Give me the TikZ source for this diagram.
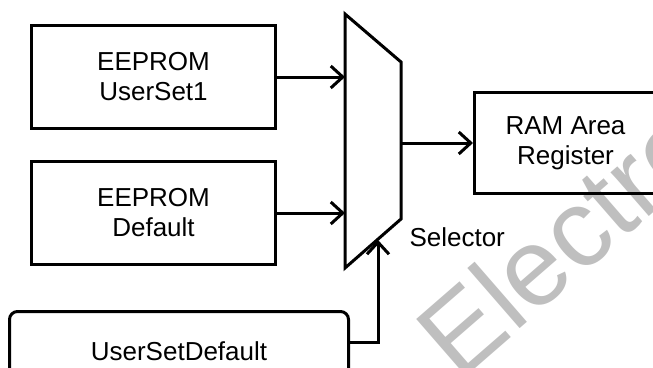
\documentclass[tikz,border=0pt]{standalone}
\usepackage{fontspec}
\setmainfont{Liberation Sans}
\usetikzlibrary{arrows.meta}
\begin{document}
\begin{tikzpicture}[x=1pt,y=-1pt,line width=3pt,
  txt/.style={font=\fontsize{26}{30}\selectfont},
  box/.style={draw,line width=3pt,align=center,txt,inner sep=0pt},
  arr/.style={-{Straight Barb[length=12pt,width=22pt]},line width=3pt},
  wmark/.style={text=black!25,font=\fontsize{110}{110}\selectfont,inner sep=0pt}]
\useasboundingbox (0,0) rectangle (653,367);
% watermark
\node[wmark,rotate=41,anchor=base west] (wm) at (458,383) {Electro};
% boxes
\node[box,minimum width=244pt,minimum height=103pt] (b1) at (153.5,77) {EEPROM\\UserSet1};
\node[box,minimum width=244pt,minimum height=103pt] (b2) at (153.5,213) {EEPROM\\Default};
\node[box,minimum width=182pt,minimum height=101pt] (ram) at (565.5,143) {RAM Area\\Register};
\node[box,rounded corners=8pt,minimum width=339pt,minimum height=79pt] (usr) at (179,351) {UserSetDefault};
% selector (mux)
\coordinate (mT) at (345,14);
\coordinate (mTR) at (401,62);
\coordinate (mBR) at (401,219);
\coordinate (mBL) at (345,268);
\draw[line join=miter] (mT) -- (mTR) -- (mBR) -- (mBL) -- cycle;
\coordinate (mL) at (345,0);
\coordinate (mR) at (401,0);
\coordinate (mB) at (378,240);
\node[txt,anchor=base west,inner sep=0pt] (sel) at (408,246) {Selector};
% connectors
\draw[arr] (b1.east) -- (b1.east -| mL);
\draw[arr] (b2.east) -- (b2.east -| mL);
\draw[arr] (ram.west -| mR) -- (ram.west);
\draw[arr] ([yshift=9pt]usr.east) -| (mB);
\end{tikzpicture}
\end{document}
